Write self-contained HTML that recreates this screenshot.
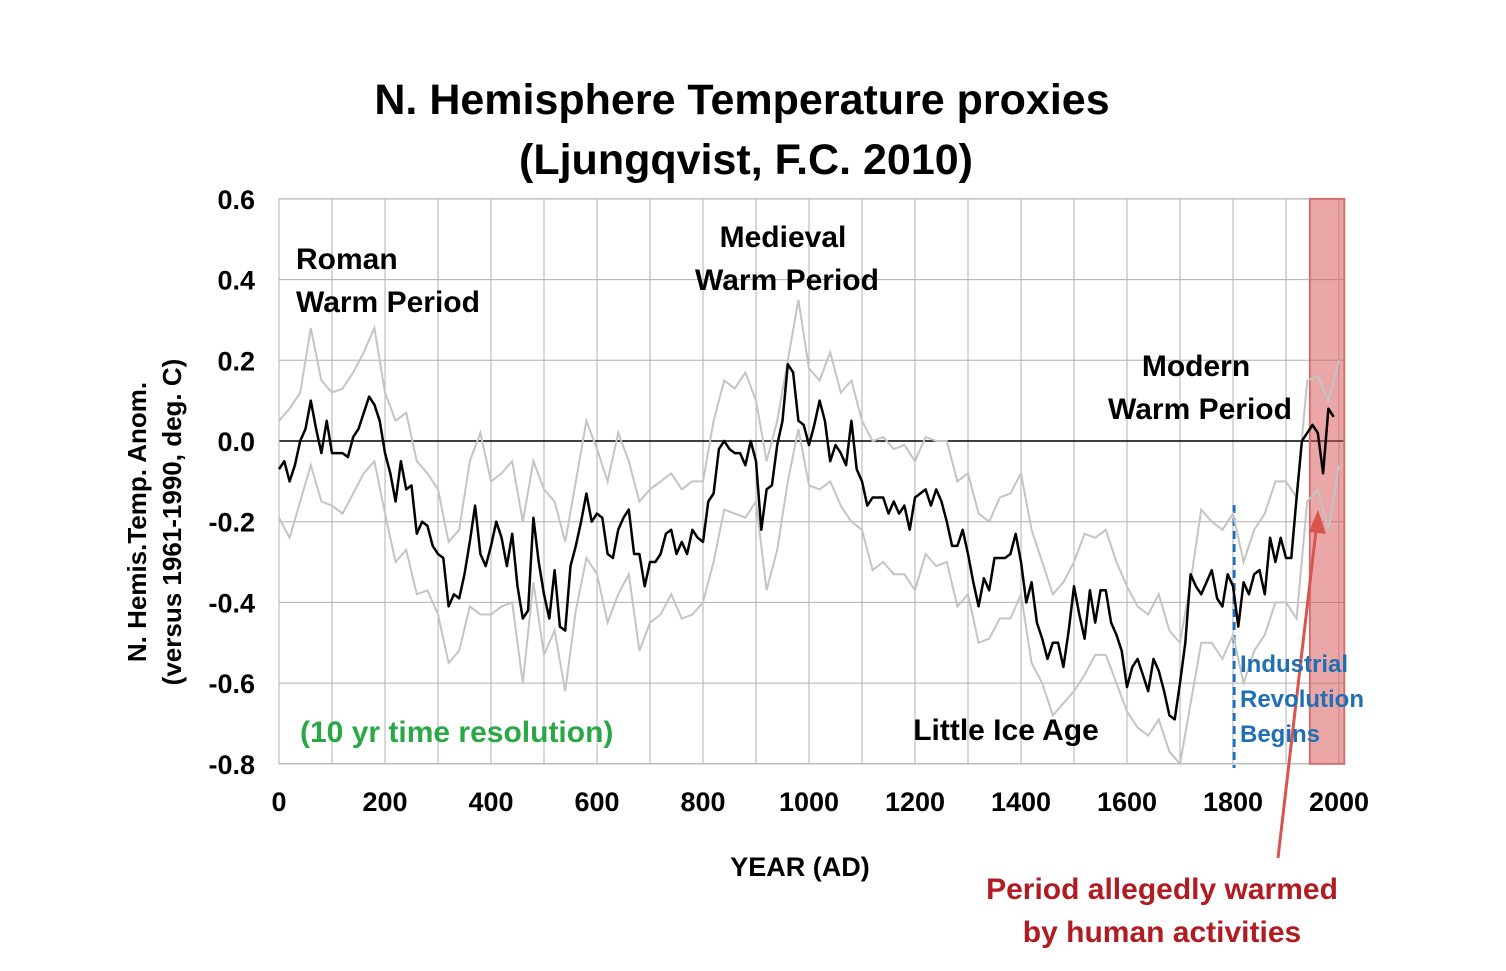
<!DOCTYPE html>
<html><head><meta charset="utf-8"><style>
body{margin:0;background:#fff;}
svg text{font-family:"Liberation Sans",sans-serif;}
</style></head><body>
<svg id="chart" width="1506" height="966" viewBox="0 0 1506 966" xmlns="http://www.w3.org/2000/svg">
<text x="742" y="114" text-anchor="middle" font-size="43" font-weight="bold">N. Hemisphere Temperature proxies</text>
<text x="746" y="174" text-anchor="middle" font-size="43" font-weight="bold">(Ljungqvist, F.C.  2010)</text>
<g id="grid"></g>
<g id="band"></g>
<g id="series"></g>
<g id="axes"></g>
<text transform="translate(146,522) rotate(-90)" text-anchor="middle" font-size="26" font-weight="bold">N. Hemis.Temp. Anom.</text>
<text transform="translate(181,522) rotate(-90)" text-anchor="middle" font-size="26" font-weight="bold">(versus 1961-1990, deg. C)</text>
<text x="800" y="876" text-anchor="middle" font-size="27" font-weight="bold">YEAR (AD)</text>
<g font-size="30" font-weight="bold">
<text x="296" y="269">Roman</text>
<text x="296" y="312">Warm Period</text>
<text x="783" y="247" text-anchor="middle">Medieval</text>
<text x="787" y="290" text-anchor="middle">Warm Period</text>
<text x="1196" y="376" text-anchor="middle">Modern</text>
<text x="1200" y="419" text-anchor="middle">Warm Period</text>
<text x="1006" y="740" text-anchor="middle">Little Ice Age</text>
<text x="300" y="742" fill="#2aa845">(10 yr time resolution)</text>
<text x="1162" y="899" text-anchor="middle" fill="#b01c22">Period allegedly warmed</text>
<text x="1162" y="942" text-anchor="middle" fill="#b01c22">by human activities</text>
</g>
<g font-size="24" font-weight="bold" fill="#1f6fb5">
<text x="1240" y="672">Industrial</text>
<text x="1240" y="707">Revolution</text>
<text x="1240" y="742">Begins</text>
</g>
</svg>
<script>
const years=[];for(let y=0;y<=2000;y+=10)years.push(y);
const mean=[-0.07,-0.05,-0.1,-0.06,0.0,0.03,0.1,0.03,-0.03,0.05,-0.03,-0.03,-0.03,-0.04,0.01,0.03,0.07,0.11,0.09,0.05,-0.03,-0.08,-0.15,-0.05,-0.12,-0.11,-0.23,-0.2,-0.21,-0.26,-0.28,-0.29,-0.41,-0.38,-0.39,-0.33,-0.25,-0.16,-0.28,-0.31,-0.26,-0.2,-0.24,-0.31,-0.23,-0.36,-0.44,-0.42,-0.19,-0.3,-0.38,-0.44,-0.32,-0.46,-0.47,-0.31,-0.26,-0.2,-0.13,-0.2,-0.18,-0.19,-0.28,-0.29,-0.22,-0.19,-0.17,-0.28,-0.28,-0.36,-0.3,-0.3,-0.28,-0.23,-0.22,-0.28,-0.25,-0.28,-0.22,-0.24,-0.25,-0.15,-0.13,-0.02,0.0,-0.02,-0.03,-0.03,-0.06,0.0,-0.05,-0.22,-0.12,-0.11,-0.01,0.05,0.19,0.17,0.05,0.04,-0.01,0.04,0.1,0.05,-0.05,-0.01,-0.03,-0.06,0.05,-0.07,-0.1,-0.16,-0.14,-0.14,-0.14,-0.18,-0.15,-0.18,-0.16,-0.22,-0.14,-0.13,-0.12,-0.16,-0.12,-0.15,-0.2,-0.26,-0.26,-0.22,-0.28,-0.35,-0.41,-0.34,-0.37,-0.29,-0.29,-0.29,-0.28,-0.23,-0.3,-0.4,-0.35,-0.45,-0.49,-0.54,-0.5,-0.5,-0.56,-0.47,-0.36,-0.43,-0.49,-0.37,-0.45,-0.37,-0.37,-0.45,-0.48,-0.52,-0.61,-0.56,-0.54,-0.58,-0.62,-0.54,-0.57,-0.62,-0.68,-0.69,-0.6,-0.5,-0.33,-0.36,-0.38,-0.35,-0.32,-0.39,-0.41,-0.33,-0.36,-0.46,-0.35,-0.38,-0.33,-0.32,-0.38,-0.24,-0.3,-0.24,-0.29,-0.29,-0.14,0.0,0.02,0.04,0.02,-0.08,0.08,0.06];
const bandYears=[];for(let y=0;y<=2000;y+=20)bandYears.push(y);
const upper=[0.05,0.08,0.12,0.28,0.15,0.12,0.13,0.17,0.22,0.28,0.12,0.05,0.07,-0.05,-0.08,-0.12,-0.25,-0.22,-0.05,0.02,-0.1,-0.08,-0.05,-0.2,-0.05,-0.12,-0.15,-0.25,-0.1,0.05,-0.02,-0.1,0.02,-0.05,-0.15,-0.12,-0.1,-0.08,-0.12,-0.1,-0.1,0.05,0.15,0.13,0.17,0.1,-0.05,0.05,0.2,0.35,0.18,0.15,0.22,0.12,0.15,0.05,0.0,0.01,-0.02,-0.01,-0.05,0.01,0.0,0.0,-0.1,-0.08,-0.18,-0.2,-0.14,-0.13,-0.08,-0.22,-0.3,-0.38,-0.35,-0.3,-0.23,-0.24,-0.22,-0.3,-0.36,-0.41,-0.43,-0.38,-0.47,-0.5,-0.35,-0.17,-0.2,-0.22,-0.18,-0.3,-0.22,-0.18,-0.1,-0.1,-0.14,0.15,0.16,0.1,0.2];
const lower=[-0.19,-0.24,-0.15,-0.06,-0.15,-0.16,-0.18,-0.13,-0.08,-0.05,-0.18,-0.3,-0.27,-0.38,-0.37,-0.43,-0.55,-0.52,-0.41,-0.43,-0.43,-0.41,-0.4,-0.6,-0.35,-0.53,-0.47,-0.62,-0.42,-0.29,-0.33,-0.45,-0.38,-0.33,-0.52,-0.45,-0.43,-0.38,-0.44,-0.43,-0.4,-0.3,-0.17,-0.18,-0.19,-0.15,-0.37,-0.27,-0.1,0.03,-0.11,-0.12,-0.1,-0.16,-0.2,-0.22,-0.32,-0.3,-0.33,-0.33,-0.37,-0.28,-0.31,-0.3,-0.41,-0.38,-0.5,-0.49,-0.44,-0.44,-0.38,-0.55,-0.6,-0.68,-0.65,-0.62,-0.58,-0.53,-0.53,-0.6,-0.67,-0.71,-0.73,-0.69,-0.77,-0.82,-0.65,-0.5,-0.5,-0.54,-0.48,-0.6,-0.52,-0.48,-0.4,-0.4,-0.44,-0.15,-0.12,-0.22,-0.06];
const xTicks=[0,200,400,600,800,1000,1200,1400,1600,1800,2000];
const yTicks=[0.6,0.4,0.2,0.0,-0.2,-0.4,-0.6,-0.8];
const warmStart=1945, warmEnd=2010, industrialYear=1802;

const NS="http://www.w3.org/2000/svg";
const X=v=>279+v*0.5300, Y=v=>441-v*403.5;
const XMAX=2010, L=X(0), R=X(XMAX), T=Y(0.6), B=Y(-0.8);
function mk(tag,attrs,parent){const e=document.createElementNS(NS,tag);for(const k in attrs)e.setAttribute(k,attrs[k]);parent.appendChild(e);return e;}
const grid=document.getElementById('grid'),axes=document.getElementById('axes'),ser=document.getElementById('series'),band=document.getElementById('band');
for(let y=0;y<=2000;y+=100){const l=mk('line',{x1:X(y),x2:X(y),y1:T,y2:B,stroke:'#b0b0b0','stroke-width':1},grid);

}
yTicks.forEach(v=>{const l=mk('line',{x1:L,x2:R,y1:Y(v),y2:Y(v),stroke:v===0?'#000':'#b0b0b0','stroke-width':v===0?1.5:1},grid);


const t=mk('text',{x:255,y:Y(v)+10,'text-anchor':'end','font-size':27,'font-weight':'bold'},axes);t.textContent=v.toFixed(1);

});
const r=mk('rect',{x:L,y:T,width:R-L,height:B-T,fill:'none',stroke:'#b0b0b0'},grid);


xTicks.forEach(v=>{const t=mk('text',{x:X(v),y:811,'text-anchor':'middle','font-size':27,'font-weight':'bold'},axes);t.textContent=v;

});
const wb=mk('rect',{x:X(warmStart),y:T,width:X(warmEnd)-X(warmStart),height:B-T,fill:'rgba(215,80,80,0.5)',stroke:'#d07070','stroke-width':2},band);


const ind=mk('line',{x1:X(industrialYear),x2:X(industrialYear),y1:505,y2:768,stroke:'#1f6fb5','stroke-width':3,'stroke-dasharray':'8,5'},band);


function path(xs,vs){return xs.map((x,i)=>(i?'L':'M')+X(x).toFixed(1)+','+Math.min(B,Y(vs[i])).toFixed(1)).join('');}
const pu=mk('path',{d:path(bandYears,upper),fill:'none',stroke:'#c4c4c4','stroke-width':2},ser);


const pl=mk('path',{d:path(bandYears,lower),fill:'none',stroke:'#c4c4c4','stroke-width':2},ser);


const pm=mk('path',{d:path(years,mean),fill:'none',stroke:'#000','stroke-width':2.5,'stroke-linejoin':'round'},ser);


const ar=mk('line',{x1:1278,y1:858,x2:1317,y2:522,stroke:'#d9534f','stroke-width':3},ser);


const ah=mk('polygon',{points:'1318,510 1309,532 1326,534',fill:'#d9534f'},ser);


</script>
</body></html>
